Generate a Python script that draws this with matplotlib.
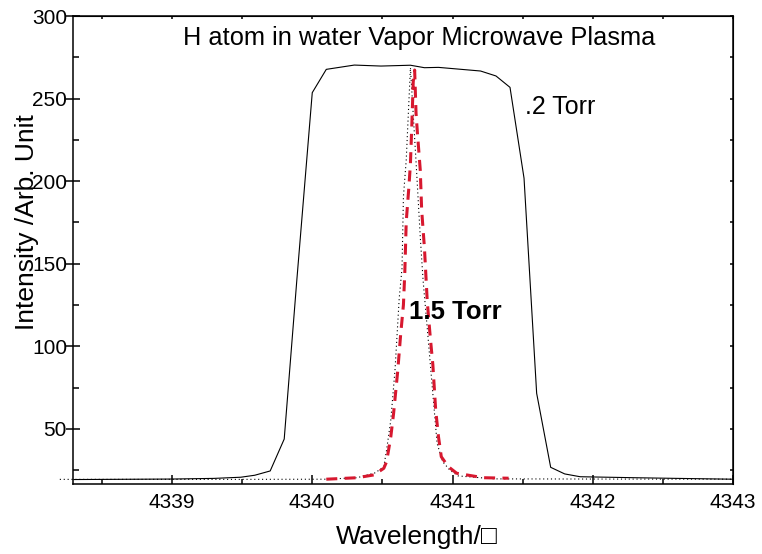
import numpy as np
import matplotlib
matplotlib.use('Agg')
import matplotlib.pyplot as plt
from matplotlib.ticker import MultipleLocator

plt.rcParams['font.family'] = ['Liberation Sans', 'DejaVu Sans']

# 0.2 Torr profile (solid)
wl_low = [4338.30, 4339.00, 4339.30, 4339.49, 4339.59, 4339.70, 4339.80, 4339.89,
          4340.00, 4340.10, 4340.30, 4340.49, 4340.70, 4340.80, 4340.90, 4341.20,
          4341.31, 4341.41, 4341.51, 4341.60, 4341.70, 4341.80, 4341.91, 4342.30,
          4342.60, 4343.00]
int_low = [19.4, 19.7, 20.1, 20.8, 22.0, 24.6, 43.9, 140.2,
           253.6, 267.7, 270.3, 269.7, 270.2, 268.7, 268.9, 266.7,
           263.7, 256.8, 201.8, 71.6, 26.8, 22.8, 21.1, 20.5,
           20.1, 19.6]

# 1.5 Torr profile (dotted)
wl_dot = [4338.20, 4339.50, 4340.10, 4340.32, 4340.45, 4340.51, 4340.53, 4340.56,
          4340.59, 4340.62, 4340.64, 4340.65, 4340.67, 4340.70, 4340.74, 4340.77,
          4340.79, 4340.82, 4340.89, 4340.93, 4340.98, 4341.04, 4341.30, 4342.00,
          4343.00]
int_dot = [19.5, 19.5, 19.6, 20.5, 23.5, 27.2, 37.3, 55.4,
           85.7, 129.1, 147.3, 190.6, 212.8, 268.7, 211.8, 166.4,
           140.2, 110.9, 41.3, 30.2, 25.2, 21.6, 19.8, 19.7,
           19.6]

# 1.5 Torr profile (red dashed)
wl_red = [4340.10, 4340.32, 4340.44, 4340.51, 4340.53, 4340.56, 4340.58, 4340.61,
          4340.63, 4340.65, 4340.66, 4340.67, 4340.69, 4340.70, 4340.71, 4340.72,
          4340.73, 4340.74, 4340.75, 4340.77, 4340.78, 4340.80, 4340.82, 4340.84,
          4340.86, 4340.88, 4340.90, 4340.92, 4340.97, 4341.03, 4341.22, 4341.40]
int_red = [19.6, 20.5, 22.2, 26.2, 30.2, 45.3, 59.5, 85.7,
           106.9, 125.1, 145.2, 175.5, 197.7, 210.8, 234.0, 260.2,
           267.3, 241.1, 229.0, 206.8, 182.6, 159.4, 127.1, 106.9,
           88.7, 61.5, 45.3, 33.2, 27.2, 23.2, 20.5, 20.2]

xmajor = [4339, 4340, 4341, 4342, 4343]
ymajor = [50, 100, 150, 200, 250, 300]

fig = plt.figure(figsize=(7.62, 5.54), dpi=100)
ax = fig.add_axes([73/762, 1-484/554, 660/762, 468/554])

ax.plot(wl_low, int_low, color='black', lw=0.8)
ax.plot(wl_dot, int_dot, color='black', lw=0.8, linestyle=(0, (1, 2.5)), clip_on=False)
ax.plot(wl_red, int_red, color='#d7182f', lw=2.2, linestyle=(0, (3.6, 2.4)))

ax.set_xlim(4338.294, 4343)
ax.set_ylim(16.7, 300)

for s in ax.spines.values():
	s.set_linewidth(1.1)

ax.set_xticks(xmajor)
ax.set_yticks(ymajor)
ax.xaxis.set_minor_locator(MultipleLocator(0.5))
ax.yaxis.set_minor_locator(MultipleLocator(25))
ax.tick_params(axis='x', which='major', direction='in', length=6.5, width=1.1, labelsize=15, pad=6.5, top=False)
ax.tick_params(axis='x', which='minor', direction='in', length=3.5, width=1.1, top=False)
ax.tick_params(axis='y', which='major', direction='inout', length=10, width=1.1, labelsize=15, pad=-0.7, right=False)
ax.tick_params(axis='y', which='minor', direction='in', length=4.5, width=1.1, right=False)

# short ticks on top and right
top = ax.secondary_xaxis('top')
top.xaxis.set_major_locator(MultipleLocator(0.5))
top.tick_params(direction='in', length=2.5, width=1.1, labeltop=False)
right = ax.secondary_yaxis('right')
right.yaxis.set_major_locator(MultipleLocator(25))
right.tick_params(direction='in', length=2.5, width=1.1, labelright=False)

ax.set_xlabel('Wavelength/\u25a1', fontsize=19)
ax.xaxis.set_label_coords((416.5-73)/660, -0.088)
ax.set_ylabel('Intensity /Arb. Unit', fontsize=19)
ax.yaxis.set_label_coords(-0.052, 0.559)

ax.text(4340.76, 282.5, 'H atom in water Vapor Microwave Plasma', fontsize=18.3,
	ha='center', va='baseline')
ax.text(4341.52, 240.7, '.2 Torr', fontsize=18, ha='left', va='baseline')
ax.text(4340.69, 116.6, '1.5 Torr', fontsize=18.5, fontweight='bold', ha='left', va='baseline')

fig.savefig('out.png', dpi=100)
